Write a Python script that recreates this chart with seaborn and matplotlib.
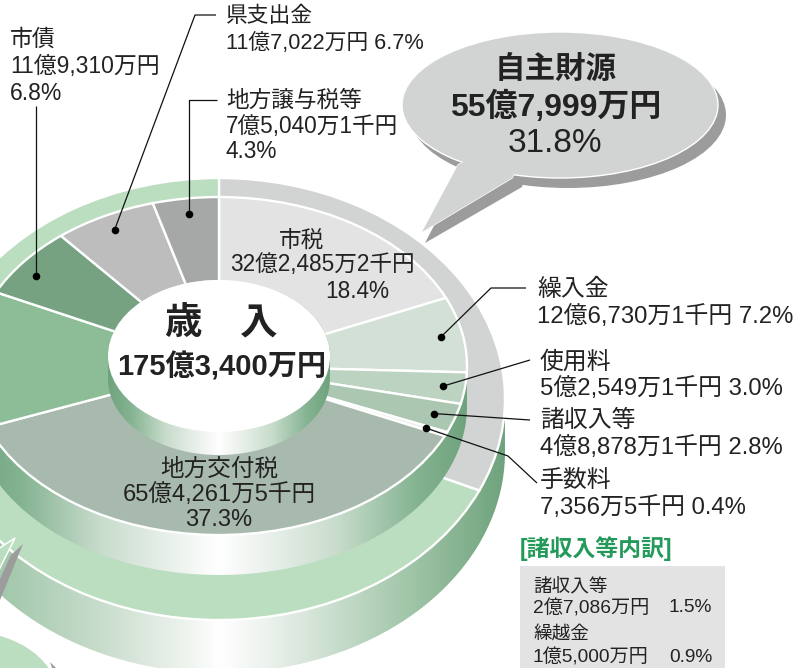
"""
Revenue breakdown donut, drawn as a two tier 3D style ring.
"""

import numpy as np
import pandas as pd
import matplotlib
matplotlib.use("Agg")
import matplotlib.pyplot as plt
from matplotlib.colors import LinearSegmentedColormap
from matplotlib.patches import Ellipse, PathPatch, Polygon
from matplotlib.path import Path
from matplotlib.transforms import Affine2D
import seaborn as sns

# clockwise from the top, percent of total revenue
categories = ['市税', '繰入金', '使用料', '諸収入等', '手数料', '地方交付税',
              '国庫支出金等', '市債', '県支出金', '地方譲与税等']
shares = [18.4, 7.2, 3.0, 2.8, 0.4, 37.3, 13.1, 6.8, 6.7, 4.3]
slice_colors = ['#E3E3E3', '#D2E0D5', '#BCD3C1', '#ABC6B1', '#E8F0EA', '#A8B9AD',
                '#8CBD97', '#76A282', '#BDBDBD', '#A6A8A7']

ring_names = ['自主財源', '依存財源']
ring_shares = [31.8, 68.2]
ring_colors = ['#D2D3D3', '#BBDDC0']

FONT = ['Liberation Sans', 'Noto Sans CJK JP']
INK = '#222222'
GREEN = '#BBDDC0'

# geometry in picture pixels
CX = 219
INNER = (366, 248, 169)
OUTER = (399, 286, 221)
HOLE = (356, 111, 76)
DOT_R = 0.91

inner_cmap = LinearSegmentedColormap.from_list('inner', [
    (0.0, '#6FA37D'), (0.10, '#84B391'), (0.26, '#C8DCCC'), (0.42, '#EEF3EF'), (0.5, '#FFFFFF'),
    (0.58, '#EEF3EF'), (0.74, '#C8DCCC'), (0.90, '#84B391'), (1.0, '#6FA37D')])
outer_cmap = LinearSegmentedColormap.from_list('outer', [
    (0.0, '#8FBC9B'), (0.15, '#A8CBB0'), (0.29, '#C8DCCC'), (0.45, '#F0F5F0'), (0.5, '#FFFFFF'),
    (0.58, '#EEF3EF'), (0.82, '#A5C8AC'), (1.0, '#6FA37D')])


def draw_side(ax, cy, rx, ry, depth, cmap, z):
    """Curved wall below an ellipse, shaded from the edges to the middle."""
    t = np.linspace(0, np.pi, 200)
    xs = np.r_[CX - rx * np.cos(t), CX + rx * np.cos(t)]
    ys = np.r_[cy - ry * np.sin(t), cy + depth + ry * np.sin(t)]
    clip = PathPatch(Path(np.c_[xs, ys]), transform=ax.transData, fc='none', ec='none')
    ax.add_patch(clip)
    img = ax.imshow(np.linspace(0, 1, 256)[None, :], cmap=cmap, aspect='auto', zorder=z,
                    extent=(CX - rx, CX + rx, cy + depth + ry, cy - ry))
    img.set_clip_path(clip)


def draw_pie(ax, values, colors, cy, rx, ry, z):
    wedges, _ = ax.pie(values, colors=colors, startangle=90, counterclock=False,
                       wedgeprops=dict(edgecolor='white', linewidth=1.7))
    to_picture = Affine2D().scale(rx, -ry).translate(CX, cy) + ax.transData
    for w in wedges:
        w.set_transform(to_picture)
        w.set_zorder(z)
        w.set_joinstyle('miter')


def label(ax, x, y, s, size=16.3, ha='left', weight='normal', color=INK, z=12):
    ax.text(x, y + 2, s, fontsize=size, ha=ha, va='center', family=FONT,
            fontweight=weight, color=color, zorder=z)


def leader(ax, *pts):
    xs, ys = zip(*pts)
    ax.plot(xs, ys, color='#111111', lw=0.9, zorder=10, solid_capstyle='butt')


def main():
    sns.set_theme(style='white')
    fig = plt.figure(figsize=(7.93, 6.68), dpi=100)
    ax = fig.add_axes([0, 0, 1, 1])

    # lower tier
    draw_side(ax, OUTER[0], OUTER[1], OUTER[2], 53, outer_cmap, 1)
    draw_pie(ax, ring_shares, ring_colors, *OUTER, 2)

    # upper tier
    draw_side(ax, INNER[0], INNER[1], INNER[2], 40, inner_cmap, 3)
    draw_pie(ax, shares, slice_colors, *INNER, 4)

    # centre hole
    draw_side(ax, HOLE[0], HOLE[1], HOLE[2], 23, inner_cmap, 5)
    ax.add_patch(Ellipse((CX, HOLE[0]), 2 * HOLE[1], 2 * HOLE[2], fc='white', ec='none', zorder=6))

    # leader dots sit on each slice's middle angle
    df = pd.DataFrame({'name': categories, 'share': shares})
    df['mid'] = (df['share'].cumsum() - df['share'] / 2 - df['name'].eq('市債') * 0.7) / 100 * 2 * np.pi
    df['x'] = CX + DOT_R * INNER[1] * np.sin(df['mid'])
    df['y'] = INNER[0] - DOT_R * INNER[2] * np.cos(df['mid'])
    df = df[~df['name'].isin(['市税', '地方交付税'])]
    sns.scatterplot(data=df, x='x', y='y', ax=ax, color='black', s=30, linewidth=0, zorder=11, legend=False)
    dot = {r['name']: (r['x'], r['y']) for _, r in df.iterrows()}

    leader(ax, dot['繰入金'], (491, 288), (526, 288))
    leader(ax, dot['使用料'], (530, 360))
    leader(ax, dot['諸収入等'], (530, 420))
    leader(ax, dot['手数料'], (508, 456), (537, 483))
    leader(ax, dot['市債'], (dot['市債'][0], 106))
    leader(ax, dot['県支出金'], (195, 15), (216, 15))
    leader(ax, dot['地方譲与税等'], (dot['地方譲与税等'][0], 100), (217, 100))
    leader(ax, dot['国庫支出金等'], (-3, 385))

    # speech bubble for the grey ring part
    ell = dict(width=316, height=146, zorder=7)
    ax.add_patch(Ellipse((568, 115), fc='#9C9C9C', ec='none', **ell))
    ax.add_patch(Polygon([(425, 243), (462, 172), (540, 130), (522, 187)], closed=True,
                         fc='#9C9C9C', ec='none', zorder=7))
    tail = [(422, 232), (458, 165), (540, 120), (512, 178)]
    ax.add_patch(Polygon(tail, closed=True, fc='#D2D3D3', ec='white', lw=1.0, zorder=7))
    ax.add_patch(Ellipse((560, 105), fc='#D2D3D3', ec='white', lw=1.0, **ell))
    ax.add_patch(Polygon(tail, closed=True, fc='#D2D3D3', ec='none', zorder=7))

    # second bubble, mostly off the picture
    ax.add_patch(Ellipse((-30, 702), 180, 140, fc=GREEN, ec='none', zorder=7))
    ax.add_patch(Polygon([(50, 662), (56, 668), (52, 668)], closed=True, fc='#9C9C9C', ec='none', zorder=7))
    ax.add_patch(Polygon([(23, 544), (11, 555), (-5, 590), (-2, 605)], closed=True, fc='#9C9C9C', ec='none', zorder=7))
    ax.add_patch(Polygon([(-5, 551), (15, 538), (-5, 578)], closed=True, fc=GREEN, ec='white', lw=1.1, zorder=8))

    # labels
    for y, s in zip((37, 64, 91), ('市債', '11億9,310万円', '6.8%')):
        label(ax, 10, y, s, size=16.5)
    for y, s in zip((15, 42), ('県支出金', '11億7,022万円 6.7%')):
        label(ax, 226, y, s, size=15.7)
    for y, s in zip((98, 125, 150), ('地方譲与税等', '7億5,040万1千円', '4.3%')):
        label(ax, 226, y, s)
    for y, s in zip((288, 315), ('繰入金', '12億6,730万1千円 7.2%')):
        label(ax, 537, y, s, size=17.2)
    for y, s in zip((360, 387), ('使用料', '5億2,549万1千円 3.0%')):
        label(ax, 540, y, s, size=17.2)
    for y, s in zip((419, 446), ('諸収入等', '4億8,878万1千円 2.8%')):
        label(ax, 540, y, s, size=17.2)
    for y, s in zip((479, 506), ('手数料', '7,356万5千円 0.4%')):
        label(ax, 540, y, s, size=17.2)

    label(ax, 301, 238, '市税', ha='center')
    label(ax, 322, 263, '32億2,485万2千円', ha='center')
    label(ax, 357, 289, '18.4%', ha='center')
    label(ax, 219, 468, '地方交付税', size=17, ha='center')
    label(ax, 219, 493, '65億4,261万5千円', size=17, ha='center')
    label(ax, 219, 518, '37.3%', size=17, ha='center')

    label(ax, 221, 323, '歳　入', size=27, ha='center', weight='bold')
    label(ax, 222, 365, '175億3,400万円', size=21, ha='center', weight='bold')

    label(ax, 556, 68, '自主財源', size=22, ha='center', weight='bold')
    label(ax, 556, 105, '55億7,999万円', size=23, ha='center', weight='bold')
    label(ax, 555, 142, '31.8%', size=24, ha='center')

    # breakdown box
    label(ax, 520, 547, '[諸収入等内訳]', size=16.5, weight='bold', color='#23995A')
    ax.add_patch(Polygon([(520, 566), (725, 566), (725, 668), (520, 668)], closed=True,
                         fc='#E3E3E3', ec='none', zorder=1))
    label(ax, 533, 585, '諸収入等', size=13.4)
    label(ax, 533, 606, '2億7,086万円', size=13.8)
    label(ax, 712, 606, '1.5%', size=13.8, ha='right')
    label(ax, 533, 633, '繰越金', size=13.4)
    label(ax, 533, 655, '1億5,000万円', size=13.8)
    label(ax, 712, 655, '0.9%', size=13.8, ha='right')

    ax.set_aspect('auto')
    ax.set_xlim(0, 793)
    ax.set_ylim(668, 0)
    ax.axis('off')
    fig.savefig('out.png', dpi=100)


if __name__ == "__main__":
    main()
